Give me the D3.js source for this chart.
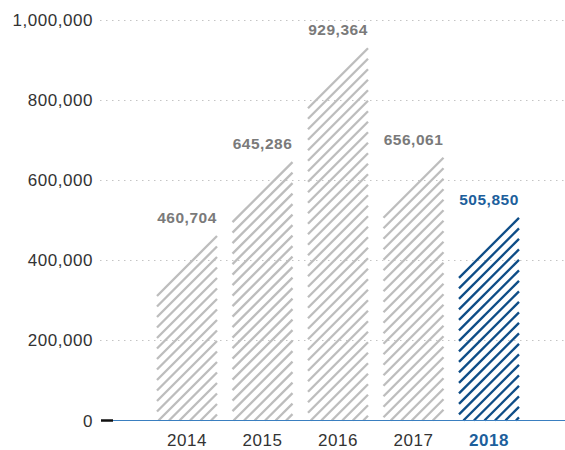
<!DOCTYPE html>
<html><head><meta charset="utf-8">
<script src="https://cdn.jsdelivr.net/npm/d3@7"></script>
<style>body{margin:0;background:#fff}svg{display:block;font-family:"Liberation Sans",Arial,Helvetica,sans-serif}</style>
</head><body><svg id="c" width="565" height="450"></svg>
<script>
const years = ["2014","2015","2016","2017","2018"];
const values = [460704, 645286, 929364, 656061, 505850];
const yTicks = [0, 200000, 400000, 600000, 800000, 1000000];
const highlightYear = "2018";

const svg = d3.select("#c");
const y = d3.scaleLinear().domain([0, 1000000]).range([420.5, 20]);
const x = d3.scaleBand().domain(years).range([149.25, 526.75]).paddingInner(0.2053).paddingOuter(0.1026);
const fmt = d3.format(",");
const gray = "#bdbdbd", blue = "#0e4d87";

// gridlines
svg.append("g").selectAll("line").data(yTicks.filter(d => d > 0)).join("line")
  .attr("x1", 100).attr("x2", 565).attr("y1", d => Math.round(y(d)) + 0.5).attr("y2", d => Math.round(y(d)) + 0.5)
  .attr("stroke", "#c4c4c4").attr("stroke-width", 1).attr("stroke-dasharray", "1.5,4.5");

// y labels
svg.append("g").selectAll("text").data(yTicks).join("text")
  .attr("x", 93).attr("y", d => y(d) + 6).attr("text-anchor", "end")
  .attr("font-size", 17).attr("letter-spacing", 0.55).attr("fill", "#333")
  .text(d => fmt(d));

// hatched bars
const spacing = 10.5;
const y0 = y(0);
years.forEach((yr, i) => {
  const xl = x(yr), w = x.bandwidth(), xr = xl + w;
  const yTop = y(values[i]);
  const col = yr === highlightYear ? blue : gray;
  const segs = [];
  for (let k = 0; ; k++) {
    let yl = yTop + w + k * spacing, yrr = yTop + k * spacing;
    if (yrr >= y0 - 0.5) break;
    let x1 = xl, y1 = yl;
    if (yl > y0) { x1 = xl + (yl - y0); y1 = y0; }
    segs.push({x1, y1, x2: xr, y2: yrr});
  }
  svg.append("g").selectAll("line").data(segs).join("line")
    .attr("x1", d => d.x1).attr("y1", d => d.y1).attr("x2", d => d.x2).attr("y2", d => d.y2)
    .attr("stroke", col).attr("stroke-width", 2.3);
  svg.append("text").attr("x", xl + w / 2).attr("y", yTop - 13).attr("text-anchor", "middle")
    .attr("font-size", 15.5).attr("font-weight", "bold").attr("letter-spacing", 0.5)
    .attr("fill", yr === highlightYear ? "#1d5f9c" : "#7a7a7a").text(fmt(values[i]));
});

// baseline
svg.append("line").attr("x1", 112).attr("x2", 565).attr("y1", y0).attr("y2", y0)
  .attr("stroke", "#3a7fc0").attr("stroke-width", 1.2);
svg.append("line").attr("x1", 101).attr("x2", 113).attr("y1", y0).attr("y2", y0)
  .attr("stroke", "#111").attr("stroke-width", 2.5);

// x labels
svg.append("g").selectAll("text").data(years).join("text")
  .attr("x", d => x(d) + x.bandwidth() / 2).attr("y", 446).attr("text-anchor", "middle")
  .attr("font-size", 17).attr("letter-spacing", 0.55)
  .attr("font-weight", d => d === highlightYear ? "bold" : "normal")
  .attr("fill", d => d === highlightYear ? "#1d5f9c" : "#333")
  .text(d => d);
</script></body></html>
